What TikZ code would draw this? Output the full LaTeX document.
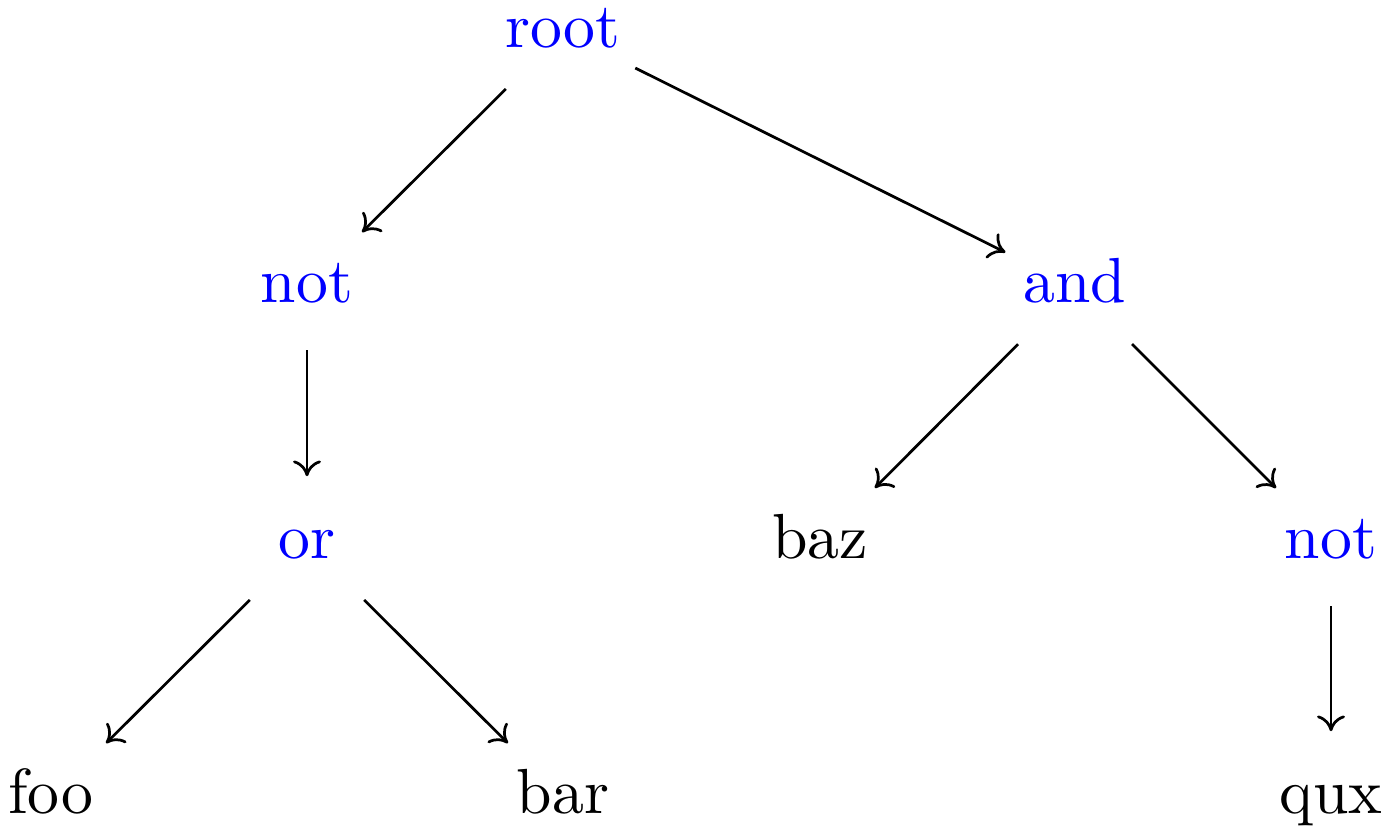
\documentclass[tikz,border=0pt]{standalone}
\usetikzlibrary{arrows.meta}
\begin{document}
\begin{tikzpicture}[x=0.1647pt, y=-0.1647pt,
  lbl/.style={font=\fontsize{10.5pt}{12.6pt}\selectfont, text height=7.17pt, text depth=2.04pt, inner sep=0pt, anchor=center},
  op/.style={lbl, text=blue},
  edgebase/.style={draw, line width=0.45pt, -{To[width=4.6pt,length=2.6pt]}},
  dg/.style={edgebase, shorten <=13.3pt, shorten >=12.8pt},
  vt/.style={edgebase, shorten <=10.4pt, shorten >=11pt}]
\useasboundingbox (0,0) rectangle (1399,826);
\node[op]  (root) at (563,32)  {root};
\node[op]  (notL) at (307,287) {not};
\node[op]  (and)  at (1075,287) {and};
\node[op]  (or)   at (307,543) {or};
\node[lbl] (baz)  at (820,543) {baz};
\node[op]  (notR) at (1331,543) {not};
\node[lbl] (foo)  at (51,798)  {foo};
\node[lbl] (bar)  at (563,798) {bar};
\node[lbl] (qux)  at (1331,798) {qux};
\draw[dg] (root.center) -- (notL.center);
\draw[dg] (root.center) -- (and.center);
\draw[vt] (notL.center) -- (or.center);
\draw[dg] (or.center) -- (foo.center);
\draw[dg] (or.center) -- (bar.center);
\draw[dg] (and.center) -- (baz.center);
\draw[dg] (and.center) -- (notR.center);
\draw[vt] (notR.center) -- (qux.center);
\end{tikzpicture}
\end{document}
